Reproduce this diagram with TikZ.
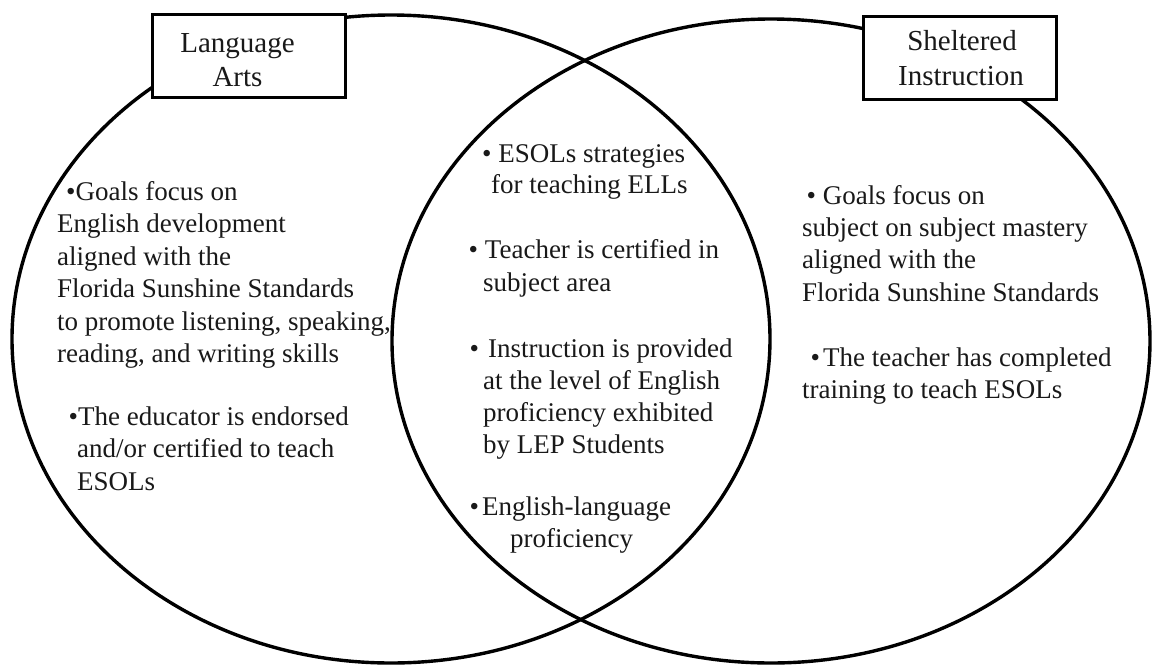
\documentclass[tikz,border=0pt]{standalone}
\usepackage{fontspec}
\setmainfont{Liberation Serif}
\begin{document}
\begin{tikzpicture}[x=1pt,y=-1pt,
  venn/.style={line width=3.4pt,draw=black},
  labelbox/.style={draw=black,line width=3pt,fill=white,minimum width=193pt,minimum height=83pt,inner sep=0pt},
  boxtext/.style={inner sep=0pt,anchor=base,font=\fontsize{29}{35}\selectfont,text=black!90},
  txt/.style={inner sep=0pt,anchor=base west,font=\fontsize{27}{31}\selectfont,text=black!90}]
\useasboundingbox[fill=white] (0,0) rectangle (1152,665);
% circles
\draw[venn] (391,339) ellipse [x radius=379pt, y radius=324pt];
\draw[venn] (771,341) ellipse [x radius=379pt, y radius=322pt];
% title boxes
\node[labelbox] (labox) at (248.5,55.5) {};
\node[boxtext] (la1) at (237.5,52) {Language};
\node[boxtext] (la2) at (237.5,86) {Arts};
\node[labelbox] (sibox) at (959.5,57.5) {};
\node[boxtext] (si1) at (962,50) {Sheltered};
\node[boxtext] (si2) at (961,85) {Instruction};
% left text
\node[txt] (l1) at (66,200) {•Goals focus on};
\node[txt] (l2) at (57,232.5) {English development};
\node[txt] (l3) at (57,265) {aligned with the};
\node[txt] (l4) at (57,297.5) {Florida Sunshine Standards};
\node[txt] (l5) at (57,330) {to promote listening, speaking,};
\node[txt] (l6) at (57,362.5) {reading, and writing skills};
\node[txt] (l7) at (68.5,425) {•The educator is endorsed};
\node[txt] (l8) at (77,457.5) {and/or certified to teach};
\node[txt] (l9) at (77,490) {ESOLs};
% centre text
\node[txt] (c1) at (482,162) {• ESOLs strategies};
\node[txt] (c2) at (491,193) {for teaching ELLs};
\node[txt] (c3) at (468.5,258) {• Teacher is certified in};
\node[txt] (c4) at (483,291) {subject area};
\node[txt] (c5) at (469.5,357) {•\hspace{9pt}Instruction is provided};
\node[txt] (c6) at (483,389) {at the level of English};
\node[txt] (c7) at (483,421) {proficiency exhibited};
\node[txt] (c8) at (483,453) {by LEP Students};
\node[txt] (c9) at (469.5,515) {•\hspace{3pt}English-language};
\node[txt] (c10) at (510,547) {proficiency};
% right text
\node[txt] (r1) at (806.4,204) {• Goals focus on};
\node[txt] (r2) at (802,236) {subject on subject mastery};
\node[txt] (r3) at (802,268) {aligned with the};
\node[txt] (r4) at (802,301) {Florida Sunshine Standards};
\node[txt] (r5) at (810.4,366) {•\hspace{3pt}The teacher has completed};
\node[txt] (r6) at (802,398) {training to teach ESOLs};
\end{tikzpicture}
\end{document}
